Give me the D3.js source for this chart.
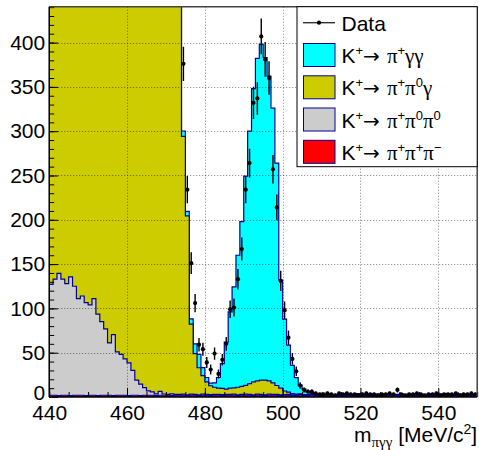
<!DOCTYPE html>
<html>
<head>
<meta charset="utf-8">
<script src="https://cdn.jsdelivr.net/npm/d3@7"></script>
<style>
  html, body { margin: 0; padding: 0; background: #fff; }
  svg { display: block; font-family: "Liberation Sans", Arial, Helvetica, sans-serif; }
</style>
</head>
<body>
<svg id="chart" width="479" height="450"></svg>
<script>
// Histogram binning: 1 MeV/c^2 bins from 440 to 550
const binLow = 440;
const binHigh = 550;
const binWidth = 1;

const xTicks = [440, 460, 480, 500, 520, 540];
const yTicks = [0, 50, 100, 150, 200, 250, 300, 350, 400];

// Observed events per bin
const dataCounts = [
  520, 560, 585, 610, 650, 690, 705, 740, 770, 805,
  830, 860, 875, 910, 935, 960, 990, 1005, 1030, 1060,
  1075, 1090, 1120, 1135, 1150, 1170, 1180, 1195, 1210, 1200,
  1170, 1120, 960, 640,
  376, 234, 151, 106, 59, 54, 39, 31, 49, 26,
  42, 60, 99, 101, 133, 167, 234, 264, 332, 337,
  407, 381, 360, 257, 214, 131, 98, 67, 43, 29,
  13, 8, 6, 6,
  4, 3, 3, 4, 3, 2, 4, 3, 4, 3,
  3, 2, 3, 4, 3, 3, 2, 3, 3, 4,
  3, 8, 3, 2, 3, 3, 4, 3, 2, 3,
  3, 4, 2, 3, 3, 3, 4, 2, 3, 3,
  4, 3
];

// Simulated contributions per bin (stacked bottom to top)
const k3pi = [ // K+ -> pi+ pi+ pi-
  2, 2, 1.5, 2, 2, 1.5, 2, 2, 2, 1.5,
  2, 2, 1.5, 2, 2, 2, 1.5, 2, 2, 2,
  1.5, 2, 2, 1.5, 2, 2, 2, 1.5, 2, 2,
  2, 1.5, 2, 2, 2, 1.5, 2, 2, 1.5, 2,
  2, 1.5, 2, 2, 1.5, 2, 2, 2, 1.5, 2,
  2, 2, 1.5, 2, 2, 1.5, 2, 2, 2, 1.5,
  2, 2, 1.5, 1.5, 2, 1.5, 1.5, 2, 1.5, 1.5,
  1.5, 2, 1.5, 1.5, 1.5, 2, 1.5, 1.5, 1.5, 2,
  1.5, 1.5, 2, 1.5, 1.5, 1.5, 2, 1.5, 1.5, 1.5,
  2, 1.5, 1.5, 1.5, 2, 1.5, 1.5, 1.5, 2, 1.5,
  1.5, 1.5, 2, 1.5, 1.5, 1.5, 2, 1.5, 1.5, 1.5
];
const kPiPi0Pi0 = [ // K+ -> pi+ pi0 pi0
  125, 131, 138, 131, 126, 134, 123, 109, 112, 105,
  102, 109, 92, 83, 75, 59, 69, 49, 46, 41,
  37, 28, 17, 13, 8.5, 5, 3.7, 2, 4.4, 1.4,
  1, 2, 1, 1, 1.2, 1, 1.2, 1, 1, 1.2,
  1, 1.2, 1, 1, 1.2, 1, 1, 1.2, 1, 1,
  1.2, 1, 1, 1.2, 1, 1, 1.2, 1, 1, 1,
  0.8, 1, 0.8, 0.8, 1, 0.8, 0.8, 1, 0.8, 0.8,
  0.8, 0.6, 0.8, 0.8, 0.6, 0.8, 0.8, 0.6, 0.8, 0.8,
  0.6, 0.8, 0.6, 0.8, 0.8, 0.6, 0.8, 0.8, 0.6, 0.8,
  0.6, 0.8, 0.8, 0.6, 0.8, 0.8, 0.6, 0.8, 0.6, 0.8,
  0.8, 0.6, 0.8, 0.8, 0.6, 0.8, 0.6, 0.8, 0.8, 0.6
];
const kPiPi0Gamma = [ // K+ -> pi+ pi0 gamma
  390, 425, 445, 475, 520, 555, 580, 630, 655, 700,
  725, 750, 780, 825, 855, 900, 915, 950, 985, 1010,
  1030, 1060, 1100, 1120, 1140, 1160, 1175, 1190, 1205, 1195,
  1165, 1115, 955, 630,
  291, 202, 79, 46, 30.5, 21, 14, 10, 8, 7,
  7, 6, 7, 7, 8.5, 9, 10, 12, 14.5, 15,
  16, 16.5, 15, 13, 10, 7.5, 4, 2.5, 1.5, 1,
  0.5, 0.5, 0.5, 0.5,
  0.5, 0.4, 0.6, 0.5, 0.4, 0.5, 0.6, 0.5, 0.4, 0.5,
  0.5, 0.6, 0.4, 0.5, 0.5, 0.4, 0.6, 0.5, 0.5, 0.4,
  0.5, 0.5, 0.6, 0.4, 0.5, 0.5, 0.4, 0.6, 0.5, 0.5,
  0.4, 0.5, 0.6, 0.5, 0.4, 0.5, 0.5, 0.6, 0.4, 0.5,
  0.5, 0.4
];
const kPiGammaGamma = [ // K+ -> pi+ gamma gamma
  0.5, 0.5, 0.5, 0.5, 0.5, 0.5, 0.5, 0.5, 0.5, 0.5,
  0.5, 0.5, 0.5, 0.5, 0.5, 0.5, 0.5, 0.5, 0.5, 0.5,
  0.5, 0.5, 0.5, 0.5, 0.5, 0.5, 0.5, 0.5, 0.5, 0.5,
  1, 1, 2, 4,
  6, 5, 6, 11, 15, 9, 5, 3, 5, 12,
  28, 53, 86, 114, 149, 186, 236, 285, 331, 364,
  379, 364, 344, 310, 251, 122, 81, 53, 32, 18.5,
  10, 6, 3, 1.5,
  0.5, 0.3, 0.3, 0.3, 0.3, 0.3, 0.3, 0.3, 0.3, 0.3,
  0.3, 0.3, 0.3, 0.3, 0.3, 0.3, 0.3, 0.3, 0.3, 0.3,
  0.3, 0.3, 0.3, 0.3, 0.3, 0.3, 0.3, 0.3, 0.3, 0.3,
  0.3, 0.3, 0.3, 0.3, 0.3, 0.3, 0.3, 0.3, 0.3, 0.3,
  0.3, 0.3
];

// Decay labels: [text, superscript] pairs after "K+ ->"
const components = [
  { key: "k3pi",   values: k3pi,          color: "#ff0000", label: [["π", "+"], ["π", "+"], ["π", "−"]] },
  { key: "kpp0p0", values: kPiPi0Pi0,     color: "#cccccc", label: [["π", "+"], ["π", "0"], ["π", "0"]] },
  { key: "kpp0g",  values: kPiPi0Gamma,   color: "#cccc00", label: [["π", "+"], ["π", "0"], ["γ", ""]] },
  { key: "kpgg",   values: kPiGammaGamma, color: "#00ffff", label: [["π", "+"], ["γγ", ""]] }
];

const outline = "#000099";
const greekFont = '"Liberation Serif", "DejaVu Serif", serif';

// Layout
const svg = d3.select("#chart");
const plot = { left: 49.2, right: 477.2, top: 6.7, bottom: 397 };
const x = d3.scaleLinear().domain([binLow, binHigh]).range([plot.left, plot.right]);
const y = d3.scaleLinear().domain([0, 440.5]).range([plot.bottom, plot.top]);

svg.append("defs").append("clipPath").attr("id", "plotClip")
  .append("rect")
  .attr("x", plot.left).attr("y", plot.top)
  .attr("width", plot.right - plot.left).attr("height", plot.bottom - plot.top);

const nBins = dataCounts.length;
const edges = d3.range(nBins).map(i => binLow + i * binWidth);

// Stack the simulated components
const rows = edges.map((e, i) => {
  const r = { edge: e };
  components.forEach(c => r[c.key] = c.values[i]);
  return r;
});
const stacked = d3.stack().keys(components.map(c => c.key))(rows);

const area = d3.area()
  .curve(d3.curveStepAfter)
  .x(d => x(d.edge))
  .y0(y(0))
  .y1(d => y(d.top));

const histLayer = svg.append("g").attr("clip-path", "url(#plotClip)");
// Draw the cumulative histograms from the full stack down to the lowest component
for (let k = stacked.length - 1; k >= 0; k--) {
  const layer = stacked[k];
  const pts = layer.map((s, i) => ({ edge: edges[i], top: s[1] }));
  pts.push({ edge: binHigh, top: layer[layer.length - 1][1] });
  histLayer.append("path")
    .datum(pts)
    .attr("d", area)
    .attr("fill", components[k].color)
    .attr("stroke", outline)
    .attr("stroke-width", 1.2)
    .attr("stroke-linejoin", "miter");
}

// Grid
const grid = svg.append("g").attr("clip-path", "url(#plotClip)")
  .attr("stroke", "#000").attr("stroke-opacity", 0.5)
  .attr("stroke-width", 1).attr("stroke-dasharray", "1,2");
grid.selectAll("line.gx").data(xTicks.filter(t => t > binLow)).enter().append("line")
  .attr("x1", d => Math.round(x(d)) + 0.5).attr("x2", d => Math.round(x(d)) + 0.5)
  .attr("y1", plot.top).attr("y2", plot.bottom);
grid.selectAll("line.gy").data(yTicks.filter(t => t > 0)).enter().append("line")
  .attr("y1", d => Math.round(y(d)) + 0.5).attr("y2", d => Math.round(y(d)) + 0.5)
  .attr("x1", plot.left).attr("x2", plot.right);

// Data points with Poisson errors
const dataLayer = svg.append("g").attr("clip-path", "url(#plotClip)");
const pts = dataCounts.map((n, i) => ({ c: edges[i] + binWidth / 2, n }))
  .filter(d => d.n > 0 && d.n < y.domain()[1]);
dataLayer.selectAll("line.err").data(pts).enter().append("line")
  .attr("x1", d => x(d.c)).attr("x2", d => x(d.c))
  .attr("y1", d => y(d.n + Math.sqrt(d.n))).attr("y2", d => y(Math.max(0, d.n - Math.sqrt(d.n))))
  .attr("stroke", "#000").attr("stroke-width", 1.4);
dataLayer.selectAll("circle").data(pts).enter().append("circle")
  .attr("cx", d => x(d.c)).attr("cy", d => y(d.n)).attr("r", 2.1)
  .attr("fill", "#000");

// Axes
const fontSize = 21;
const yAxisMinor = d3.axisLeft(y).tickValues(d3.range(0, 441, 10)).tickSize(-5).tickFormat("");
const yAxis = d3.axisLeft(y).tickValues(yTicks).tickSize(-9).tickPadding(4);
const xAxisMinor = d3.axisBottom(x).tickValues(d3.range(440, 551, 5)).tickSize(-5).tickFormat("");
const xAxis = d3.axisBottom(x).tickValues(xTicks).tickSize(-9).tickPadding(8);

function styleAxis(g) {
  g.select(".domain").remove();
  g.selectAll(".tick line").attr("stroke", "#000").attr("stroke-width", 1);
  g.selectAll(".tick text").attr("fill", "#000").style("font-size", fontSize + "px")
    .style("font-family", '"Liberation Sans", Arial, sans-serif');
}
svg.append("g").attr("transform", `translate(${plot.left},0)`).call(yAxisMinor).call(styleAxis);
svg.append("g").attr("transform", `translate(${plot.left},0)`).call(yAxis).call(styleAxis)
  .selectAll(".tick text").attr("dy", d => d === 0 ? "0.12em" : "0.32em");
svg.append("g").attr("transform", `translate(0,${plot.bottom})`).call(xAxisMinor).call(styleAxis);
svg.append("g").attr("transform", `translate(0,${plot.bottom})`).call(xAxis).call(styleAxis);

// Frame
svg.append("line").attr("x1", plot.left).attr("x2", plot.right).attr("y1", plot.top).attr("y2", plot.top)
  .attr("stroke", "#444").attr("stroke-width", 1.5);
svg.append("line").attr("x1", plot.right).attr("x2", plot.right).attr("y1", plot.top).attr("y2", plot.bottom)
  .attr("stroke", "#444").attr("stroke-width", 1.5);
svg.append("line").attr("x1", plot.left).attr("x2", plot.left).attr("y1", plot.top).attr("y2", plot.bottom)
  .attr("stroke", "#000").attr("stroke-width", 1.5);
svg.append("line").attr("x1", plot.left).attr("x2", plot.right).attr("y1", plot.bottom).attr("y2", plot.bottom)
  .attr("stroke", "#000").attr("stroke-width", 1.5);

// Axis title: m_{πγγ} [MeV/c^2]
const title = svg.append("text")
  .attr("x", plot.right).attr("y", 442)
  .attr("text-anchor", "end")
  .style("font-size", "21px").attr("fill", "#000");
title.append("tspan").text("m");
title.append("tspan").attr("dy", 5).style("font-size", "15px").style("font-family", greekFont).text("πγγ");
title.append("tspan").attr("dy", -5).text(" [MeV/c");
title.append("tspan").attr("dy", -8).style("font-size", "14px").text("2");
title.append("tspan").attr("dy", 8).text("]");

// Legend
const legend = svg.append("g");
const lg = { x0: 297, x1: plot.right, y0: plot.top, y1: 166.7 };
legend.append("rect")
  .attr("x", lg.x0).attr("y", lg.y0).attr("width", lg.x1 - lg.x0).attr("height", lg.y1 - lg.y0)
  .attr("fill", "#fff").attr("stroke", "#000").attr("stroke-width", 1);

const rowY = [22.7, 55, 87.3, 119.5, 151.8];
const textX = 341.5;
const supShift = 8;

// Data entry
legend.append("line").attr("x1", 303).attr("x2", 335).attr("y1", rowY[0]).attr("y2", rowY[0])
  .attr("stroke", "#333").attr("stroke-width", 1.4);
legend.append("circle").attr("cx", 319).attr("cy", rowY[0]).attr("r", 2.1).attr("fill", "#000");
legend.append("text").attr("x", textX).attr("y", rowY[0] + 8)
  .style("font-size", fontSize + "px").text("Data");

// Component entries, top of the stack first
const legendOrder = [3, 2, 1, 0];
legendOrder.forEach((ci, j) => {
  const c = components[ci];
  const cy = rowY[j + 1];
  legend.append("rect")
    .attr("x", 303.5).attr("y", cy - 11.5).attr("width", 31.5).attr("height", 23)
    .attr("fill", c.color).attr("stroke", outline).attr("stroke-width", 1);
  const t = legend.append("text").attr("x", textX).attr("y", cy + 8)
    .style("font-size", fontSize + "px").attr("fill", "#000");
  t.append("tspan").text("K");
  t.append("tspan").attr("dy", -supShift).style("font-size", "13px").text("+");
  t.append("tspan").attr("dy", supShift).style("font-family", '"DejaVu Sans", sans-serif')
    .style("font-size", "20px").text("→");
  let raised = false;
  c.label.forEach(([base, sup], p) => {
    t.append("tspan")
      .attr("dy", raised ? supShift : null)
      .attr("dx", p === 0 ? 7 : null)
      .style("font-family", greekFont).text(base);
    raised = false;
    if (sup) {
      t.append("tspan").attr("dy", -supShift).style("font-size", "13px").text(sup);
      raised = true;
    }
  });
});
</script>
</body>
</html>
